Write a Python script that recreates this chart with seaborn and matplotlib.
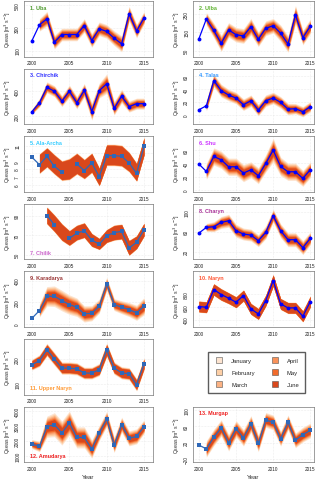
import numpy as np
import pandas as pd
import matplotlib.pyplot as plt
import seaborn as sns
from matplotlib.lines import Line2D

nan = np.nan
years = list(range(2000, 2016))

# observed seasonal discharge per basin
uba = [188, 326, 379, 174, 241, 241, 241, 320, 188, 291, 268, 209, 159, 424, 271, 388]
ulba = [115, 223, 160, 90, 163, 137, 130, 181, 112, 172, 186, 145, 86, 246, 121, 183]
chirchik = [235, 307, 432, 400, 320, 400, 307, 408, 235, 405, 461, 261, 360, 275, 299, 299]
talas = [7.8, 14, 53, 37.4, 30.6, 26, 15.6, 21.8, 7.3, 21.8, 26, 19.2, 8.8, 9.4, 4.7, 12.5]
ala_archa = [9.5, 8.56, 9.63, 8.35, 7.58, nan, 8.65, 7.8, 8.78, 7.03, 9.72, 9.72, 9.63, 8.78, 7.45, 10.9]
shu = [39, 28, 50.5, 45.5, 35, 35, 25.5, 30.5, 21.5, 40, 60, 35.5, 27.5, 27.5, 17.5, 30.5]
chilik = [nan, nan, 90, 80.6, nan, 66.6, 72, 74.4, 64.8, 60.7, 69.2, 72.6, 73.7, 56.8, 62.6, 75.5]
charyn = [57.3, 68.7, 70, 78.7, 82, 62, 55.3, 53.3, 42, 58.7, 92, 62, 44, 44, 28, 46.7]
karadarya = [52, 123, 255, 255, 215, 178, 154, 92, 98, 163, 369, 178, 154, 132, 102, 163]
naryn = [603, 592, 868, 790, 733, 670, 774, 566, 488, 696, 1008, 644, 582, 582, 452, 680]
upper_naryn = [177, 193, 237, 200, 163, 163, 160, 143, 143, 157, 236, 163, 144, 140, 96, 180]
amudarya = [1778, 1622, 2933, 3067, 2511, 3178, 2222, 2222, 1444, 2511, 3444, 1711, 3067, 2156, 2289, 2933]
murgap = [14.5, 5, 33, 56, 20, 54, 32, 66, 18.4, 75.7, 69.4, 30, 69.4, 26, 40, 50]

# centre of the forecast bands where it differs from the observed line
ala_archa_mid = [nan, 8.7, 9.5, 8.6, 7.8, 8.0, 8.7, 8.0, 8.8, 7.0, 9.8, 9.8, 9.7, 8.9, 7.6, 10.9]
chilik_mid = [nan, nan, 90, 82, 73, 67, 72.5, 75, 65, 61, 69, 72.5, 73.5, 57, 62.6, 75.5]

# half width of the January forecast band
uba_spread = [nan, 55, 65, 60, 55, 55, 55, 60, 60, 60, 60, 65, 70, 65, 60, 55]
ulba_spread = [nan, 35, 40, 45, 40, 40, 40, 45, 40, 40, 40, 45, 45, 50, 40, 40]
chirchik_spread = [20, 35, 45, 45, 45, 50, 50, 55, 70, 60, 80, 55, 55, 45, 45, 45]
talas_spread = [nan, 8, 10, 10, 9, 9, 9, 9, 9, 9, 9, 9, 9, 8, 8, 8]
ala_archa_spread = [nan, 1.3, 1.3, 1.3, 1.3, 1.4, 1.4, 1.3, 1.3, 1.2, 1.4, 1.4, 1.4, 1.3, 1.2, 1.2]
shu_spread = [nan, 12, 13, 13, 13, 13, 13, 12, 12, 13, 18, 14, 13, 13, 12, 12]
chilik_spread = [nan, nan, 9, 9, 9, 8, 8, 8, 7, 6, 7, 8, 8, 8, 7, 7]
charyn_spread = [nan, 8, 10, 12, 13, 13, 12, 12, 12, 13, 13, 14, 14, 14, 14, 13]
karadarya_spread = [nan, 60, 90, 95, 95, 90, 85, 75, 70, 65, 60, 55, 60, 65, 70, 80]
naryn_spread = [90, 90, 95, 95, 90, 90, 90, 90, 90, 90, 95, 90, 90, 90, 90, 90]
upper_naryn_spread = [22, 24, 26, 26, 25, 25, 25, 24, 24, 25, 28, 25, 25, 25, 25, 25]
amudarya_spread = [300, 350, 700, 800, 800, 800, 700, 700, 600, 500, 500, 500, 500, 500, 500, 450]
murgap_spread = [nan, 20, 20, 20, 20, 20, 20, 20, 20, 18, 18, 18, 18, 18, 18, 18]

# band width of each month relative to January
ratio_std = [1.0, 0.88, 0.77, 0.66, 0.55, 0.44]
ratio_flat = [1.0, 0.95, 0.93, 0.92, 0.9, 0.88]
ratio_mid = [1.0, 0.9, 0.85, 0.8, 0.75, 0.7]

months = ["January", "February", "March", "April", "May", "June"]
month_colors = ["#FDE4D0", "#FDCFA6", "#FCB283", "#F9925A", "#F26B2B", "#D9481C"]

# y tick labels ("" = tick without label)
ala_archa_ticklabels = ["6", "7", "8", "9", "", "11"]

panels = [
    ("1. Uba", "#4E9A2E", uba, None, uba_spread, ratio_std, [100, 300, 500], (48, 535), "top"),
    ("2. Ulba", "#5DB22E", ulba, None, ulba_spread, ratio_std, [50, 150, 250], (18, 321), "top"),
    ("3. Chirchik", "#3333FF", chirchik, None, chirchik_spread, ratio_std, [200, 400], (133, 584), "top"),
    ("4. Talas", "#3399FF", talas, None, talas_spread, ratio_std, [0, 20, 40, 60], (-14.5, 71.7), "top"),
    ("5. Ala-Archa", "#33CCFF", ala_archa, ala_archa_mid, ala_archa_spread, ratio_flat, [6, 7, 8, 9, 10, 11], (5.1, 12.2), "top"),
    ("6. Shu", "#CC33FF", shu, None, shu_spread, ratio_std, [0, 20, 40, 60], (-2.5, 81), "top"),
    ("7. Chilik", "#CC66CC", chilik, chilik_mid, chilik_spread, ratio_flat, [50, 70, 90], (45.2, 102), "bottom"),
    ("8. Charyn", "#AA3399", charyn, None, charyn_spread, ratio_std, [20, 60, 100], (4.7, 116), "top"),
    ("9. Karadarya", "#993333", karadarya, None, karadarya_spread, ratio_std, [0, 200, 400], (-28, 485), "top"),
    ("10. Naryn", "#FF5533", naryn, None, naryn_spread, ratio_flat, [400, 600, 800], (286, 1150), "top"),
    ("11. Upper Naryn", "#FF9933", upper_naryn, None, upper_naryn_spread, ratio_mid, [100, 200], (57, 280), "bottom"),
    ("12. Amudarya", "#EE2222", amudarya, None, amudarya_spread, ratio_std, [1000, 2000, 3000, 4000], (578, 4270), "bottom"),
    ("13. Murgap", "#EE2222", murgap, None, murgap_spread, ratio_std, [-20, 20, 60, 100], (-27, 108), "top"),
]
square_panels = ["5. Ala-Archa", "7. Chilik", "9. Karadarya", "11. Upper Naryn", "12. Amudarya", "13. Murgap"]

sns.set_style("white")
plt.rcParams["font.family"] = ["Liberation Sans", "DejaVu Sans"]

W, H = 320, 489
fig = plt.figure(figsize=(W / 100, H / 100), dpi=100)

row_top = [2 + 67.6 * k for k in range(7)]
ax_h = 55.5
cols = [(24, 129, (1998.93, 2016.2)), (193, 121, (1999.2, 2015.5))]

slots = [(r, c) for r in range(5) for c in range(2)] + [(5, 0), (6, 0), (6, 1)]

for (title, tcol, obs, mid, spread, ratios, yticks, ylim, tpos), (r, c) in zip(panels, slots):
    x0, w, xlim = cols[c]
    ax = fig.add_axes([x0 / W, 1 - (row_top[r] + ax_h) / H, w / W, ax_h / H])
    obs_a = np.array(obs, dtype=float)
    centre = obs_a if mid is None else np.array(mid, dtype=float)
    sp = np.array(spread, dtype=float)
    for m, col in enumerate(month_colors):
        ax.fill_between(years, centre - sp * ratios[m], centre + sp * ratios[m],
                        color=col, lw=0, zorder=1)

    square = title in square_panels
    lcol = "#2F68B8" if square else "#0000FF"
    df = pd.DataFrame({"year": years, "q": obs_a})
    df["run"] = df["q"].isna().cumsum()
    df = df.dropna()
    for _, seg in df.groupby("run"):
        sns.lineplot(data=seg, x="year", y="q", ax=ax, color=lcol, lw=0.9,
                     marker="s" if square else "o", markersize=2.8,
                     markeredgewidth=0, zorder=3)

    ax.set_xlim(*xlim)
    ax.set_ylim(*ylim)
    ax.set_xticks([2000, 2005, 2010, 2015])
    ax.set_yticks(yticks)
    if title == "5. Ala-Archa":
        ax.set_yticklabels(ala_archa_ticklabels)
    ax.grid(True, color="#dddddd", lw=0.4, ls=":")
    ax.tick_params(labelsize=3.4, length=1.6, width=0.4, pad=1.2, colors="#222222")
    ax.tick_params(axis="y", labelrotation=90)
    for t in ax.get_yticklabels():
        t.set_va("center")
    for s in ax.spines.values():
        s.set_color("#777777")
        s.set_linewidth(0.5)
    ax.set_ylabel(r"Qseas [m$^3$ s$^{-1}$]", fontsize=3.7, labelpad=1.5)
    if r == 6:
        ax.set_xlabel("Year", fontsize=4.4, labelpad=2)
    else:
        ax.set_xlabel("")
    ty = 0.93 if tpos == "top" else 0.08
    ax.text(0.05, ty, title, transform=ax.transAxes, color=tcol, fontsize=4,
            fontweight="bold", va="top" if tpos == "top" else "bottom", zorder=5)

handles = [Line2D([], [], ls="", marker="s", markersize=4.5, markerfacecolor=col,
                  markeredgecolor="#555555", markeredgewidth=0.4) for col in month_colors]
fig.legend(handles, months, loc="center", bbox_to_anchor=(256.5 / W, 1 - 373.5 / H),
           ncol=2, fontsize=4.2, frameon=True, fancybox=False, edgecolor="#333333",
           borderpad=1.0, labelspacing=1.2, columnspacing=2.5, handletextpad=1.0)

fig.savefig("out.png", dpi=100)
